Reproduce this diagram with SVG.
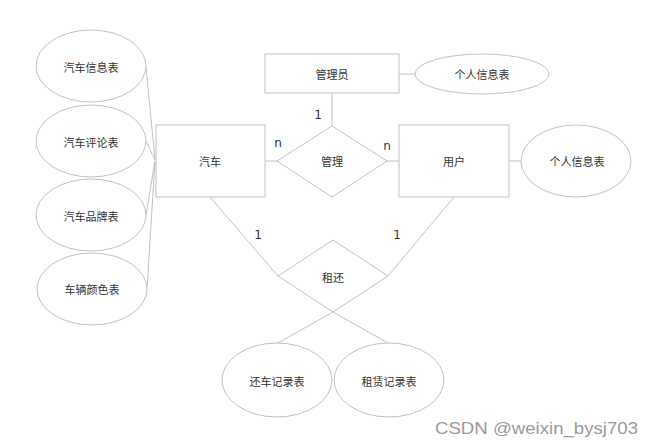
<svg xmlns="http://www.w3.org/2000/svg" width="654" height="448" viewBox="0 0 654 448">
<style>
.s{fill:#fff;stroke:#c2c2c2;stroke-width:1}
.c line,.c polyline{stroke:#c2c2c2;stroke-width:1;fill:none}
.t{font-family:"Noto Sans CJK SC","DejaVu Sans",sans-serif;font-size:11px;fill:#333;text-anchor:middle;dominant-baseline:central}
.l{font-family:"DejaVu Sans","Liberation Sans",sans-serif;font-size:12px;fill:#333;text-anchor:middle;dominant-baseline:central}
</style>
<rect width="654" height="448" fill="#fff"/>
<g class="c" id="connectors">
<line x1="146" y1="67" x2="155" y2="160"/>
<line x1="146" y1="141" x2="155" y2="160"/>
<line x1="146" y1="215" x2="155" y2="161"/>
<line x1="147" y1="289" x2="155" y2="161"/>
<line x1="265" y1="161" x2="277" y2="161"/>
<line x1="387" y1="161" x2="399" y2="161"/>
<line x1="332" y1="93" x2="332" y2="126"/>
<line x1="399" y1="74" x2="415" y2="74"/>
<line x1="509" y1="161" x2="521" y2="161"/>
<line x1="210" y1="197" x2="278" y2="276"/>
<line x1="454" y1="197" x2="388" y2="276"/>
<line x1="333" y1="312" x2="278" y2="343"/>
<line x1="333" y1="312" x2="388" y2="343"/>
</g>
<g id="e1"><ellipse class="s" cx="91" cy="66" rx="55" ry="36"/><text class="t" x="91" y="67">汽车信息表</text></g>
<g id="e2"><ellipse class="s" cx="91" cy="141" rx="55" ry="36"/><text class="t" x="91" y="142">汽车评论表</text></g>
<g id="e3"><ellipse class="s" cx="91" cy="215" rx="55" ry="36"/><text class="t" x="91" y="216">汽车品牌表</text></g>
<g id="e4"><ellipse class="s" cx="92" cy="289" rx="55" ry="36"/><text class="t" x="92" y="289">车辆颜色表</text></g>
<g id="car"><rect class="s" x="156" y="125" width="109" height="72"/><text class="t" x="210" y="161">汽车</text></g>
<g id="admin"><rect class="s" x="265" y="54" width="134" height="39"/><text class="t" x="332" y="74">管理员</text></g>
<g id="adminInfo"><ellipse class="s" cx="482" cy="74" rx="67" ry="20"/><text class="t" x="482" y="74">个人信息表</text></g>
<g id="manage"><polygon class="s" points="277,161 332,126 387,161 332,197"/><text class="t" x="332" y="161">管理</text></g>
<g id="user"><rect class="s" x="399" y="125" width="110" height="72"/><text class="t" x="454" y="161">用户</text></g>
<g id="userInfo"><ellipse class="s" cx="576" cy="161" rx="55" ry="36"/><text class="t" x="577" y="161">个人信息表</text></g>
<g id="rent"><polygon class="s" points="278,276 333,240 388,276 333,312"/><text class="t" x="333" y="277">租还</text></g>
<g id="returnRec"><ellipse class="s" cx="277" cy="380" rx="55" ry="37"/><text class="t" x="277" y="381">还车记录表</text></g>
<g id="rentRec"><ellipse class="s" cx="389" cy="380" rx="55" ry="37"/><text class="t" x="389" y="381">租赁记录表</text></g>
<g id="labels">
<text class="l" x="318" y="115">1</text>
<text class="l" x="278" y="143">n</text>
<text class="l" x="387" y="146">n</text>
<text class="l" x="258" y="235">1</text>
<text class="l" x="397" y="235">1</text>
</g>
<text x="435" y="434" font-family="Liberation Sans, Arial, sans-serif" font-size="17" fill="#9a9a9a" textLength="203" lengthAdjust="spacingAndGlyphs">CSDN @weixin_bysj703</text>
</svg>
